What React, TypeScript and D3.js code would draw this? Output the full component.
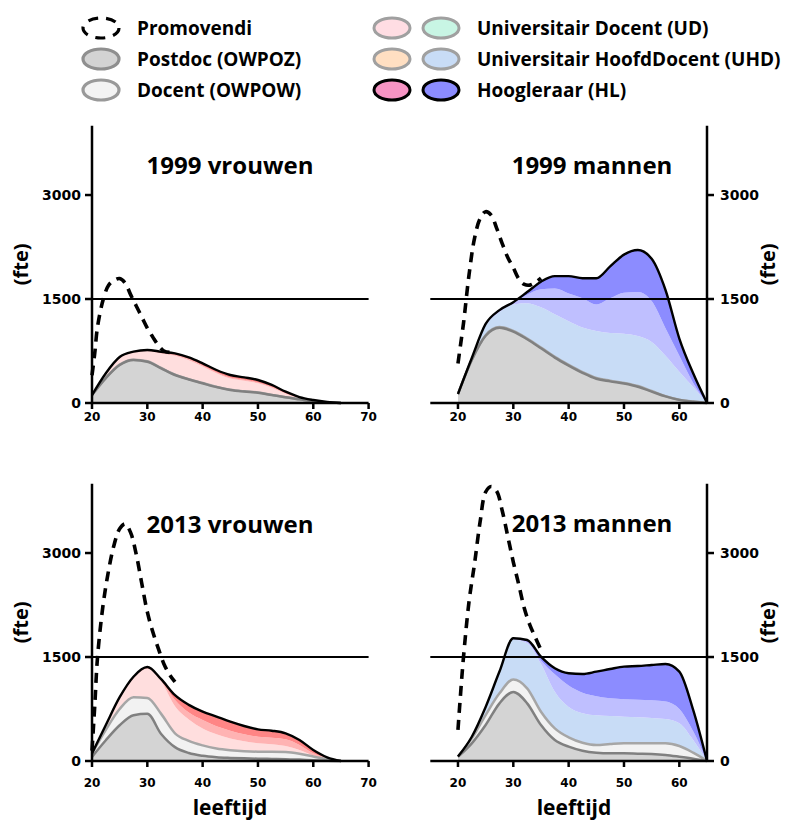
import React from 'react';
import * as d3 from 'd3';

const width = 791;
const height = 822;

// leeftijd (age) grid for the stacked staff layers
const ages = [20, 22.5, 25, 27.5, 30, 32.5, 35, 37.5, 40, 42.5, 45, 47.5, 50, 52.5, 55, 57.5, 60, 62.5, 65];
// age grid for the promovendi (dashed) curve
const promoAges = [20, 20.5, 21, 22, 23, 24, 25, 26, 27, 28, 29, 30, 31, 32, 33, 34, 35];

const yTicks = [0, 1500, 3000];
const xTicksWomen = [20, 30, 40, 50, 60, 70];
const xTicksMen = [20, 30, 40, 50, 60];

// 1999 vrouwen
const postdocV99 = [115, 360, 548, 620, 596, 500, 404, 340, 284, 230, 188, 165, 149, 115, 82, 53, 24, 10, 0];
const docentV99 = [0, 3, 5, 5, 5, 5, 5, 4, 4, 3, 3, 3, 3, 2, 2, 1, 0, 0, 0];
const udV99 = [0, 61, 100, 99, 144, 208, 271, 274, 239, 196, 163, 152, 133, 103, 49, 14, 10, 2, 0];
const uhdV99 = [0, 3, 5, 8, 10, 12, 15, 15, 15, 15, 15, 15, 12, 10, 8, 5, 3, 1, 0];
const hlV99 = [0, 3, 5, 8, 10, 15, 20, 25, 30, 32, 35, 35, 35, 30, 22, 12, 6, 2, 0];
const promoV99 = [400, 720, 1100, 1485, 1700, 1770, 1795, 1730, 1560, 1400, 1240, 1080, 950, 830, 750, 730, 735];

// 1999 mannen
const postdocM99 = [130, 620, 970, 1085, 1030, 920, 790, 655, 540, 435, 350, 312, 280, 235, 165, 95, 45, 19, 0];
const docentM99 = [0, 5, 8, 10, 10, 10, 10, 10, 10, 10, 10, 10, 10, 10, 8, 5, 3, 1, 0];
const udM99 = [0, 15, 132, 215, 380, 510, 580, 615, 630, 645, 680, 688, 710, 720, 707, 580, 402, 210, 0];
const uhdM99 = [0, 5, 15, 15, 20, 120, 260, 370, 400, 420, 380, 500, 590, 635, 590, 400, 230, 60, 0];
const hlM99 = [0, 5, 15, 15, 15, 40, 110, 180, 250, 290, 380, 460, 550, 607, 610, 550, 250, 138, 0];
const promoM99 = [570, 860, 1150, 1850, 2380, 2660, 2760, 2710, 2520, 2300, 2100, 1950, 1790, 1710, 1700, 1740, 1800];

// 2013 vrouwen
const postdocV13 = [60, 300, 515, 660, 680, 390, 200, 115, 75, 55, 45, 38, 33, 30, 27, 20, 12, 5, 0];
const docentV13 = [50, 150, 235, 260, 230, 290, 200, 175, 150, 125, 110, 102, 102, 105, 103, 85, 53, 20, 0];
const udV13 = [0, 55, 150, 270, 420, 470, 390, 310, 245, 205, 170, 145, 120, 105, 86, 55, 15, 5, 0];
const uhdV13 = [0, 7, 10, 10, 10, 15, 90, 100, 121, 115, 112, 100, 96, 95, 97, 71, 31, 10, 0];
const hlV13 = [0, 8, 10, 16, 15, 15, 70, 110, 121, 140, 130, 120, 106, 102, 86, 72, 48, 13, 0];
const promoV13 = [150, 800, 1500, 2250, 2750, 3120, 3350, 3420, 3290, 2980, 2560, 2150, 1860, 1620, 1400, 1250, 1140];

// 2013 mannen
const postdocM13 = [62, 255, 519, 832, 995, 832, 519, 303, 207, 149, 120, 111, 111, 106, 101, 87, 62, 34, 0];
const docentM13 = [3, 72, 144, 144, 180, 216, 192, 168, 134, 115, 111, 134, 144, 149, 154, 168, 154, 86, 0];
const udM13 = [0, 18, 107, 304, 575, 652, 689, 529, 439, 426, 429, 403, 385, 377, 367, 350, 329, 183, 0];
const uhdM13 = [0, 5, 10, 5, 10, 20, 50, 250, 310, 295, 275, 256, 250, 251, 253, 253, 205, 127, 0];
const hlM13 = [0, 0, 0, 5, 10, 25, 55, 87, 175, 270, 354, 423, 471, 487, 510, 541, 539, 306, 0];
const promoM13 = [450, 1000, 1500, 2300, 2850, 3450, 3880, 3960, 3890, 3610, 3240, 2870, 2540, 2200, 1960, 1780, 1600];

const layerKeys = ['postdoc', 'docent', 'ud', 'uhd', 'hl'];
const womenFill = ['#d4d4d4', '#f2f2f2', '#ffdede', '#ffb3b3', '#ff8585'];
const menFill = ['#d4d4d4', '#f2f2f2', '#c8dcf6', '#bfbfff', '#8c8cff'];

const panels = [
  { title: '1999 vrouwen', men: false, y0: 403, series: [postdocV99, docentV99, udV99, uhdV99, hlV99], promo: promoV99, titleY: 174 },
  { title: '1999 mannen', men: true, y0: 403, series: [postdocM99, docentM99, udM99, uhdM99, hlM99], promo: promoM99, titleY: 174 },
  { title: '2013 vrouwen', men: false, y0: 761, series: [postdocV13, docentV13, udV13, uhdV13, hlV13], promo: promoV13, titleY: 533 },
  { title: '2013 mannen', men: true, y0: 761, series: [postdocM13, docentM13, udM13, uhdM13, hlM13], promo: promoM13, titleY: 532 },
];

const legendLeft = [
  { label: 'Promovendi', fill: '#ffffff', stroke: '#000', dash: '10 8' },
  { label: 'Postdoc (OWPOZ)', fill: '#d3d3d3', stroke: '#8f8f8f' },
  { label: 'Docent (OWPOW)', fill: '#f3f3f3', stroke: '#999999' },
];
const legendRight = [
  { label: 'Universitair Docent (UD)', a: '#ffdde3', b: '#c8f5e4', stroke: '#a0a0a0' },
  { label: 'Universitair HoofdDocent (UHD)', a: '#ffdfc2', b: '#c8dcf6', stroke: '#a0a0a0' },
  { label: 'Hoogleraar (HL)', a: '#f794c4', b: '#8c8cff', stroke: '#000' },
];

const sans = "'Open Sans', sans-serif";
const tickFont = "'DejaVu Sans', sans-serif";

const Panel = ({ p }: { p: any }) => {
  const x = p.men
    ? d3.scaleLinear().domain([15, 65]).range([430.3, 707])
    : d3.scaleLinear().domain([20, 70]).range([92, 368.6]);
  const y = d3.scaleLinear().domain([0, 4000]).range([p.y0, p.y0 - 277.3]);
  const fills = p.men ? menFill : womenFill;

  const table = ages.map((a, i) => {
    const r: any = { age: a };
    layerKeys.forEach((k, j) => (r[k] = p.series[j][i]));
    return r;
  });
  const stacked = d3.stack<any>().keys(layerKeys)(table);

  const area = d3.area<any>()
    .x(d => x(d.data.age))
    .y0(d => y(d[0]))
    .y1(d => y(d[1]))
    .curve(d3.curveMonotoneX);
  const edge = d3.line<any>()
    .x(d => x(d.data.age))
    .y(d => y(d[1]))
    .curve(d3.curveMonotoneX);
  const promoLine = d3.line<number>()
    .x((d, i) => x(promoAges[i]))
    .y(d => y(d))
    .curve(d3.curveCatmullRom.alpha(0.5));

  const axisX = p.men ? x(65) : x(20);
  const xStart = p.men ? x(15) : x(20);
  const xEnd = p.men ? x(65) : x(70);
  const xTicks = p.men ? xTicksMen : xTicksWomen;
  const labelDy = p.y0 < 500 ? 18 : 26;
  const midY = y(2000) + 6;
  const cx = p.men ? 592 : 230;

  return (
    <g>
      {stacked.map((s, i) => (
        <path key={i} d={area(s) || ''} fill={fills[i]} stroke="none" />
      ))}
      <path d={edge(stacked[1]) || ''} fill="none" stroke="#a6a6a6" strokeWidth={2.5} />
      <path d={edge(stacked[0]) || ''} fill="none" stroke="#808080" strokeWidth={2.5} />
      <path d={edge(stacked[4]) || ''} fill="none" stroke="#000" strokeWidth={2.4} />

      <line x1={xStart} x2={xEnd} y1={y(1500)} y2={y(1500)} stroke="#000" strokeWidth={2.2} />

      {/* y axis */}
      <line x1={axisX} x2={axisX} y1={y(0)} y2={y(4000)} stroke="#000" strokeWidth={2.5} />
      {yTicks.map(t => (
        <g key={t}>
          <line x1={axisX} x2={p.men ? axisX + 7 : axisX - 7} y1={y(t)} y2={y(t)} stroke="#000" strokeWidth={2.5} />
          <text
            x={p.men ? axisX + 13 : axisX - 11}
            y={y(t) + 5}
            textAnchor={p.men ? 'start' : 'end'}
            fontFamily={tickFont}
            fontWeight="bold"
            fontSize={14}
          >
            {t}
          </text>
        </g>
      ))}

      {/* x axis */}
      <line x1={xStart} x2={xEnd} y1={y(0)} y2={y(0)} stroke="#000" strokeWidth={2.5} />
      {xTicks.map(t => (
        <g key={t}>
          <line x1={x(t)} x2={x(t)} y1={y(0)} y2={y(0) + 6} stroke="#000" strokeWidth={2.5} />
          <text x={x(t)} y={y(0) + labelDy} textAnchor="middle" fontFamily={tickFont} fontWeight="bold" fontSize={12}>
            {t}
          </text>
        </g>
      ))}

      <path
        d={promoLine(p.promo) || ''}
        fill="none"
        stroke="#000"
        strokeWidth={3.6}
        strokeDasharray="10 7"
      />

      <text x={cx} y={p.titleY} textAnchor="middle" fontFamily={sans} fontWeight="bold" fontSize={24}>
        {p.title}
      </text>

      <text
        transform={`translate(${p.men ? 775 : 28},${midY - 6}) rotate(-90)`}
        textAnchor="middle"
        fontFamily={sans}
        fontWeight="bold"
        fontSize={20}
      >
        (fte)
      </text>

      {p.y0 > 500 && (
        <text x={p.men ? 574 : 230} y={815} textAnchor="middle" fontFamily={sans} fontWeight="bold" fontSize={21}>
          leeftijd
        </text>
      )}
    </g>
  );
};

const App = () => {
  const rowY = [28, 59, 90];
  return (
    <svg width={width} height={height} style={{ position: 'absolute', left: 0, top: 0, background: '#fff' }}>
      <rect width={width} height={height} fill="#fff" />
      {legendLeft.map((l, i) => (
        <g key={l.label}>
          <ellipse cx={101} cy={rowY[i]} rx={18} ry={10} fill={l.fill} stroke={l.stroke} strokeWidth={3.2} strokeDasharray={l.dash} />
          <text x={137} y={rowY[i] + 7} fontFamily={sans} fontWeight="bold" fontSize={19}>{l.label}</text>
        </g>
      ))}
      {legendRight.map((l, i) => (
        <g key={l.label}>
          <ellipse cx={392} cy={rowY[i]} rx={18} ry={10} fill={l.a} stroke={l.stroke} strokeWidth={3} />
          <ellipse cx={441} cy={rowY[i]} rx={18} ry={10} fill={l.b} stroke={l.stroke} strokeWidth={3} />
          <text x={477} y={rowY[i] + 7} fontFamily={sans} fontWeight="bold" fontSize={19}>{l.label}</text>
        </g>
      ))}
      {panels.map(p => (
        <Panel key={p.title} p={p} />
      ))}
    </svg>
  );
};

export default App;
